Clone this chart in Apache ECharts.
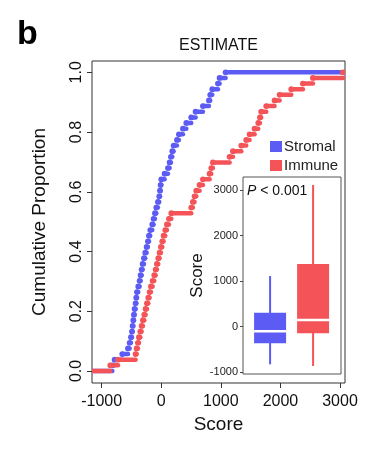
<!DOCTYPE html>
<html><head><meta charset="utf-8">
<script src="https://cdn.jsdelivr.net/npm/echarts@6/dist/echarts.min.js"></script>
<style>html,body{margin:0;padding:0;background:#fff}#c{width:387px;height:454px}</style>
</head><body><div id="c"></div>
<script>
// ---- data ----
const xTicks = [-1000, 0, 1000, 2000, 3000];
const yTicks = [0, 0.2, 0.4, 0.6, 0.8, 1.0];
const stromalScores = [-822,-783,-655,-559,-531,-509,-492,-481,-470,-459,-448,-431,-420,-408,-386,-364,-347,-330,-313,-291,-269,-246,-224,-207,-185,-151,-129,-106,-84,-56,-34,-22,-11,0,56,112,140,162,185,207,263,296,364,420,503,576,699,800,822,856,951,979,1080];
const immuneScores = [-856,-727,-431,-414,-392,-375,-352,-330,-308,-285,-263,-241,-218,-196,-173,-145,-117,-95,-73,-50,-28,-6,17,39,67,95,129,168,503,531,559,587,643,699,811,839,867,1147,1203,1343,1426,1482,1566,1628,1656,1678,1762,1902,1986,2182,2377,2545,3050];
const boxCategories = ['Stromal', 'Immune'];
const boxMin = [-825, -862];
const boxQ1 = [-364, -145];
const boxMedian = [-101, 147];
const boxQ3 = [307, 1375];
const boxMax = [1112, 3110];
const insetTicks = [-1000, 0, 1000, 2000, 3000];

// ---- style / layout ----
const FONT = '"Liberation Sans", Arial, sans-serif';
const BLUE = '#5c5cf5', RED = '#f45358';
const X_MIN = -1163, X_MAX = 3084, Y_MIN = -0.0402, Y_MAX = 1.0378;

function ecdfSegments(scores) {
  const s = scores.slice().sort((a, b) => a - b);
  const n = s.length, out = [[X_MIN, s[0], 0, 0]];
  for (let i = 0; i < n; i++) out.push([s[i], i + 1 < n ? s[i + 1] : X_MAX, (i + 1) / n, 1]);
  return out;
}
function renderStep(params, api) {
  const y = api.value(2);
  const p0 = api.coord([api.value(0), y]), p1 = api.coord([api.value(1), y]);
  const c = api.visual('color');
  const ch = [{type: 'line', shape: {x1: p0[0], y1: p0[1], x2: p1[0], y2: p1[1]}, style: {stroke: c, lineWidth: 4.5, lineCap: 'round'}}];
  if (api.value(3)) ch.push({type: 'circle', shape: {cx: p0[0], cy: p0[1], r: 2.9}, style: {fill: c}});
  return {type: 'group', children: ch};
}
function renderBox(params, api) {
  const x = api.value(0);
  const pMin = api.coord([x, api.value(1)]), pQ1 = api.coord([x, api.value(2)]),
        pMed = api.coord([x, api.value(3)]), pQ3 = api.coord([x, api.value(4)]),
        pMax = api.coord([x, api.value(5)]);
  const c = api.visual('color'), w = 32;
  return {type: 'group', children: [
    {type: 'line', shape: {x1: pMin[0], y1: pMin[1], x2: pMax[0], y2: pMax[1]}, style: {stroke: c, lineWidth: 2}},
    {type: 'rect', shape: {x: pQ3[0] - w / 2, y: pQ3[1], width: w, height: pQ1[1] - pQ3[1]}, style: {fill: c}},
    {type: 'line', shape: {x1: pMed[0] - w / 2, y1: pMed[1], x2: pMed[0] + w / 2, y2: pMed[1]}, style: {stroke: '#fff', lineWidth: 2.5}}
  ]};
}
const boxData = boxCategories.map((name, i) => ({
  name, value: [i, boxMin[i], boxQ1[i], boxMedian[i], boxQ3[i], boxMax[i]],
  itemStyle: {color: i === 0 ? BLUE : RED}
}));
const plain = v => String(Math.round(v));

const chart = echarts.init(document.getElementById('c'), null, {renderer: 'canvas'});
chart.setOption({
  backgroundColor: '#fff',
  animation: false,
  textStyle: {fontFamily: FONT},
  grid: [
    {left: 92, top: 61, width: 253, height: 322, show: true, borderColor: '#333', borderWidth: 1, backgroundColor: 'transparent'},
    {left: 243, top: 177, width: 98, height: 197, show: true, borderColor: '#555', borderWidth: 1, backgroundColor: '#fff'}
  ],
  xAxis: [
    {gridIndex: 0, type: 'value', min: X_MIN, max: X_MAX, position: 'bottom',
     axisLine: {show: false, onZero: false}, splitLine: {show: false},
     axisTick: {show: true, length: 5, customValues: xTicks, lineStyle: {color: '#333'}},
     axisLabel: {customValues: xTicks, fontSize: 16, color: '#111', margin: 11, fontFamily: FONT, formatter: plain},
     name: 'Score', nameLocation: 'middle', nameGap: 28,
     nameTextStyle: {fontSize: 19, color: '#111', fontFamily: FONT}},
    {gridIndex: 1, type: 'value', min: -0.63, max: 1.649, show: false, axisLine: {onZero: false}}
  ],
  yAxis: [
    {gridIndex: 0, type: 'value', min: Y_MIN, max: Y_MAX, position: 'left',
     axisLine: {show: false, onZero: false}, splitLine: {show: false},
     axisTick: {show: true, length: 5, customValues: yTicks, lineStyle: {color: '#333'}},
     axisLabel: {customValues: yTicks, rotate: 90, fontSize: 16, color: '#111', margin: 7, fontFamily: FONT,
                 formatter: v => v.toFixed(1)},
     name: 'Cumulative Proportion', nameLocation: 'middle', nameGap: 43,
     nameTextStyle: {fontSize: 19, color: '#111', fontFamily: FONT}},
    {gridIndex: 1, type: 'value', min: -1037, max: 3285, position: 'left',
     axisLine: {show: false, onZero: false}, splitLine: {show: false},
     axisTick: {show: true, length: 3, customValues: insetTicks, lineStyle: {color: '#444'}},
     axisLabel: {customValues: insetTicks, fontSize: 11, color: '#222', margin: 5, fontFamily: FONT, formatter: plain},
     name: 'Score', nameLocation: 'middle', nameGap: 36,
     nameTextStyle: {fontSize: 17, color: '#111', fontFamily: FONT}}
  ],
  legend: {
    data: ['Stromal', 'Immune'], orient: 'vertical', left: 270, top: 139, padding: 0,
    itemWidth: 12, itemHeight: 11, itemGap: 4, icon: 'rect', selectedMode: false,
    textStyle: {fontSize: 15, color: '#222', fontFamily: FONT, padding: [0, 0, 0, -3]}
  },
  series: [
    {name: 'Stromal', type: 'custom', xAxisIndex: 0, yAxisIndex: 0, clip: true,
     itemStyle: {color: BLUE}, renderItem: renderStep, data: ecdfSegments(stromalScores)},
    {name: 'Immune', type: 'custom', xAxisIndex: 0, yAxisIndex: 0, clip: true,
     itemStyle: {color: RED}, renderItem: renderStep, data: ecdfSegments(immuneScores)},
    {name: 'box', type: 'custom', xAxisIndex: 1, yAxisIndex: 1, clip: true,
     renderItem: renderBox, data: boxData}
  ],
  graphic: [
    {type: 'text', x: 17, y: 35, style: {text: 'b', fontSize: 34, fontWeight: 'bold', fontFamily: FONT, fill: '#000', verticalAlign: 'middle'}},
    {type: 'text', x: 218.5, y: 46, style: {text: 'ESTIMATE', fontSize: 16, fontFamily: FONT, fill: '#111', align: 'center', verticalAlign: 'middle'}},
    {type: 'text', x: 247, y: 191, z: 100, style: {text: '{i|P} < 0.001', fontSize: 14, fontFamily: FONT, fill: '#111', verticalAlign: 'middle',
       rich: {i: {fontStyle: 'italic', fontSize: 14, fontFamily: FONT, fill: '#111'}}}}
  ]
});
</script></body></html>
